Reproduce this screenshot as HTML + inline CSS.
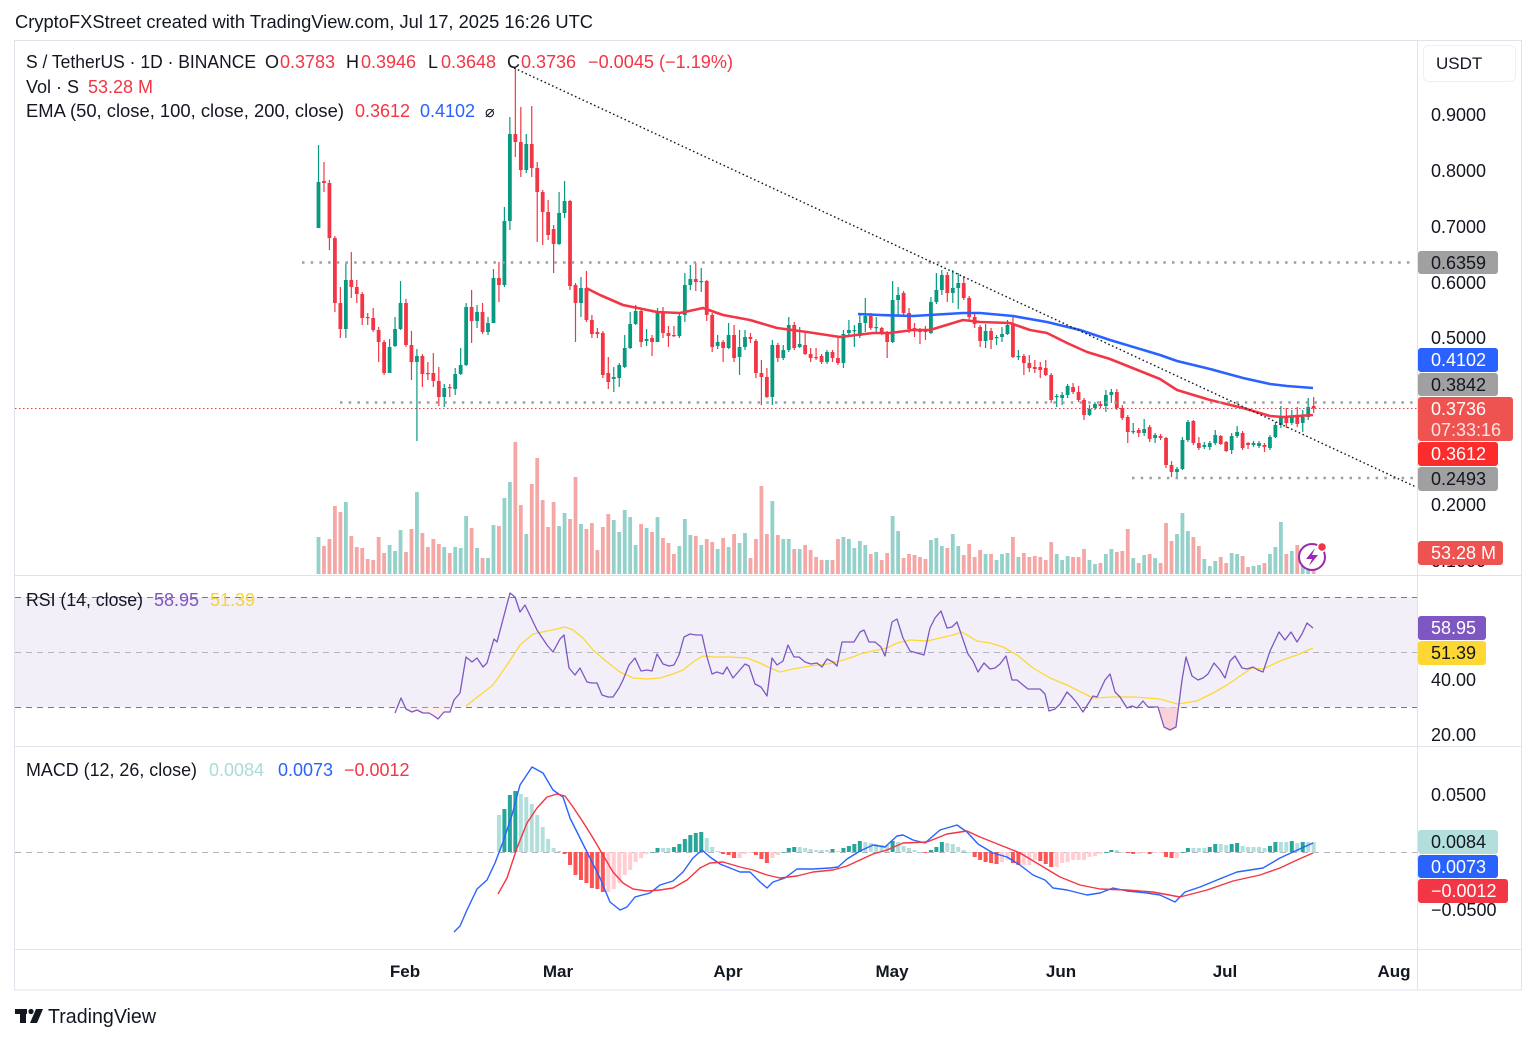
<!DOCTYPE html>
<html><head><meta charset="utf-8"><title>S/USDT chart</title>
<style>
html,body{margin:0;padding:0;background:#fff;}
svg{display:block;font-family:"Liberation Sans",Arial,sans-serif;}
</style></head>
<body>
<svg id="c" xmlns="http://www.w3.org/2000/svg" width="1536" height="1041" viewBox="0 0 1536 1041">
<rect width="1536" height="1041" fill="#fff"/>
<!-- title -->
<text x="15" y="28" font-size="18" fill="#131722" textLength="578" lengthAdjust="spacingAndGlyphs">CryptoFXStreet created with TradingView.com, Jul 17, 2025 16:26 UTC</text>

<!-- frame -->
<rect x="14.5" y="40.5" width="1507" height="949.5" fill="none" stroke="#e0e3eb" stroke-width="1"/>
<line x1="1417.5" y1="40" x2="1417.5" y2="990" stroke="#e0e3eb"/>
<line x1="14" y1="575.5" x2="1521" y2="575.5" stroke="#e0e3eb"/>
<line x1="14" y1="746.5" x2="1521" y2="746.5" stroke="#e0e3eb"/>
<line x1="14" y1="949.5" x2="1521" y2="949.5" stroke="#e0e3eb"/>

<!-- RSI band -->
<rect x="15" y="597" width="1402" height="110" fill="#f2eff9"/>
<line x1="15" y1="597.5" x2="1417" y2="597.5" stroke="#787b86" stroke-dasharray="6 5" stroke-width="1"/>
<line x1="15" y1="652.5" x2="1417" y2="652.5" stroke="#b2b5be" stroke-dasharray="6 5" stroke-width="1"/>
<line x1="15" y1="707.5" x2="1417" y2="707.5" stroke="#787b86" stroke-dasharray="6 5" stroke-width="1"/>
<!-- MACD zero -->
<line x1="15" y1="852.5" x2="1417" y2="852.5" stroke="#b2b5be" stroke-dasharray="6 5" stroke-width="1"/>

<g id="vol"></g>
<g id="cnd"></g>

<!-- EMAs -->
<polyline fill="none" stroke="#f23645" stroke-width="2.6" stroke-linejoin="round" points="586,288 590,290 600,295 623,305 657,312 680,313 703,308 723,315 750,320 777,328 807,332 840,337 873,333 890,333 913,330 930,330 963,320 980,322 1010,323 1030,330 1047,333 1067,343 1087,352 1110,359 1120,363 1140,371 1160,379 1177,390 1210,400 1243,408 1270,416 1283,417 1313,415"/>
<polyline fill="none" stroke="#2962ff" stroke-width="2.6" stroke-linejoin="round" points="858,314 880,315 913,316 963,313 980,313 1013,316 1047,322 1080,330 1110,340 1160,355 1177,361 1210,369 1243,378 1270,384 1287,386 1313,388"/>

<!-- horizontal dotted levels -->
<line x1="302" y1="262.5" x2="1415" y2="262.5" stroke="#9e9e9e" stroke-width="2.5" stroke-dasharray="2.5 6.2"/>
<line x1="340" y1="402.5" x2="1415" y2="402.5" stroke="#9e9e9e" stroke-width="2.5" stroke-dasharray="2.5 6.2"/>
<line x1="1132" y1="478" x2="1415" y2="478" stroke="#9e9e9e" stroke-width="2.5" stroke-dasharray="2.5 6.2"/>
<!-- trendline -->
<line x1="514" y1="68" x2="1416" y2="487" stroke="#131722" stroke-width="1.4" stroke-dasharray="1.6 2.6"/>
<!-- current price line -->
<line x1="15" y1="408.5" x2="1417" y2="408.5" stroke="#f23645" stroke-width="1" stroke-dasharray="1.5 2.5"/>

<!-- RSI oversold fills -->
<polygon points="1158,707 1164,727 1170,730 1176,727 1178,707" fill="#f7c6cf" opacity="0.8"/>
<polygon points="396,707 406,709 412,712 417,710 423,713 429,713 434,716 438,719 444,712 450,712 452,707" fill="#f7c6cf" opacity="0.3"/>
<!-- RSI lines -->
<polyline fill="none" stroke="#fdd835" stroke-width="1.3" stroke-linejoin="round" points="466,706 480,695 493,685 507,665 520,645 533,634 547,631 557,629 565,627 573,630 583,638 593,650 607,662 620,672 633,678 647,679 660,678 673,674 683,670 693,662 703,656 713,657 730,657 747,658 760,663 770,668 780,672 793,669 810,666 827,664 840,661 853,657 860,654 873,651 887,648 897,643 910,640 927,641 940,638 953,635 962,632 977,641 990,643 1003,647 1017,655 1033,668 1050,678 1067,685 1083,693 1093,698 1113,697 1133,697 1147,698 1160,699 1177,704 1197,701 1213,693 1227,685 1240,676 1252,668 1263,669 1280,661 1297,655 1313,648"/>
<polyline fill="none" stroke="#7e57c2" stroke-width="1.3" stroke-linejoin="round" points="395,713 401,698 406,709 412,712 417,710 423,713 429,713 434,716 438,719 444,712 450,712 454,700 460,693 466,657 472,662 477,658 483,667 487,663 494,639 497,642 510,593 515,597 520,612 525,605 537,630 547,645 553,652 560,639 564,635 569,668 575,675 580,668 587,682 592,683 597,683 602,695 608,697 613,697 619,688 623,680 629,665 635,658 641,671 647,670 652,671 657,654 663,664 669,666 674,665 679,655 684,637 690,634 696,635 702,635 707,657 712,674 717,672 723,674 727,667 733,678 739,671 745,664 749,666 755,684 761,687 767,696 772,658 777,665 783,661 788,645 794,657 799,657 805,662 811,664 817,663 822,667 827,659 833,662 837,666 842,642 848,642 854,642 860,632 864,630 869,642 875,642 881,647 885,656 892,622 897,619 903,638 910,651 917,653 924,655 930,628 935,618 941,611 947,628 952,627 957,622 968,654 973,661 978,672 984,663 990,669 995,668 1000,664 1006,656 1012,680 1017,680 1023,685 1028,689 1040,689 1045,694 1049,711 1055,709 1060,704 1067,692 1072,697 1077,703 1083,712 1088,704 1093,696 1097,697 1105,680 1110,674 1115,692 1120,697 1127,708 1132,706 1137,708 1143,701 1148,707 1158,707 1164,727 1170,730 1176,727 1182,680 1186,657 1192,676 1198,680 1203,678 1208,674 1214,663 1220,670 1225,678 1230,661 1235,656 1242,668 1247,669 1253,667 1258,670 1263,672 1270,651 1279,632 1285,640 1291,632 1297,642 1302,634 1307,623 1313,628"/>

<!-- MACD -->
<g id="hist"></g>
<polyline fill="none" stroke="#2962ff" stroke-width="1.4" stroke-linejoin="round" points="454,932 460,926 467,910 477,889 487,880 495,863 503,842 512,815 520,785 532,767 543,773 553,790 563,797 570,818 580,838 590,858 600,878 610,902 620,910 627,907 635,897 650,893 660,885 673,881 683,872 693,858 702,850 710,857 720,864 730,868 740,872 750,872 760,882 767,888 773,882 785,878 797,869 813,869 830,868 838,867 847,859 860,851 873,845 885,847 897,836 903,835 913,840 925,843 940,830 957,825 967,832 978,844 993,853 1007,857 1020,865 1033,875 1045,880 1053,888 1067,890 1087,895 1100,893 1113,888 1127,891 1147,893 1160,895 1175,902 1185,892 1200,887 1217,880 1237,872 1263,868 1280,858 1293,852 1313,843"/>
<polyline fill="none" stroke="#f23645" stroke-width="1.4" stroke-linejoin="round" points="498,894 507,878 517,848 527,823 537,808 547,797 557,794 565,796 573,807 583,822 593,838 603,855 613,872 623,883 633,889 647,891 660,890 673,888 687,880 700,868 710,863 723,862 740,867 753,870 767,875 780,878 797,876 813,872 833,870 847,866 860,860 873,854 887,850 903,843 927,842 947,834 967,831 980,837 1000,845 1020,853 1040,865 1060,877 1080,885 1100,889 1127,890 1153,892 1180,897 1207,890 1233,881 1260,875 1280,868 1297,860 1313,853"/>

<!-- legends -->
<g font-size="18">
<text x="26" y="68" fill="#131722" textLength="230" lengthAdjust="spacingAndGlyphs">S / TetherUS · 1D · BINANCE</text>
<text x="265" y="68" fill="#131722">O</text><text x="280" y="68" fill="#f23645">0.3783</text>
<text x="346" y="68" fill="#131722">H</text><text x="361" y="68" fill="#f23645">0.3946</text>
<text x="428" y="68" fill="#131722">L</text><text x="441" y="68" fill="#f23645">0.3648</text>
<text x="507" y="68" fill="#131722">C</text><text x="521" y="68" fill="#f23645">0.3736</text>
<text x="588" y="68" fill="#f23645" textLength="145" lengthAdjust="spacingAndGlyphs">−0.0045 (−1.19%)</text>
<text x="26" y="93" fill="#131722">Vol · S</text><text x="88" y="93" fill="#f23645">53.28 M</text>
<text x="26" y="117" fill="#131722" textLength="318" lengthAdjust="spacingAndGlyphs">EMA (50, close, 100, close, 200, close)</text>
<text x="355" y="117" fill="#f23645">0.3612</text><text x="420" y="117" fill="#2962ff">0.4102</text>
<text x="485" y="117" fill="#131722" font-size="16">⌀</text>
<text x="26" y="606" fill="#131722" textLength="117" lengthAdjust="spacingAndGlyphs">RSI (14, close)</text>
<text x="154" y="606" fill="#7e57c2">58.95</text><text x="210" y="606" fill="#f5d33a">51.39</text>
<text x="26" y="776" fill="#131722" textLength="171" lengthAdjust="spacingAndGlyphs">MACD (12, 26, close)</text>
<text x="209" y="776" fill="#a9dcd6">0.0084</text><text x="278" y="776" fill="#2962ff">0.0073</text><text x="344" y="776" fill="#f23645">−0.0012</text>
</g>

<!-- price axis -->
<rect x="1423.5" y="45.5" width="92" height="36" rx="5" fill="none" stroke="#eef0f3"/>
<text x="1436" y="69" font-size="17" fill="#131722">USDT</text>
<g font-size="18" fill="#131722">
<text x="1431" y="121">0.9000</text>
<text x="1431" y="177">0.8000</text>
<text x="1431" y="233">0.7000</text>
<text x="1431" y="289">0.6000</text>
<text x="1431" y="344">0.5000</text>
<text x="1431" y="511">0.2000</text>
<text x="1431" y="567">0.1000</text>
<text x="1431" y="686">40.00</text>
<text x="1431" y="741">20.00</text>
<text x="1431" y="801">0.0500</text>
<text x="1431" y="916">−0.0500</text>
</g>
<!-- badges -->
<g font-size="18">
<rect x="1418" y="251" width="80" height="23" rx="3" fill="#a0a0a0"/><text x="1431" y="269" fill="#131722">0.6359</text>
<rect x="1418" y="348" width="80" height="24" rx="3" fill="#2962ff"/><text x="1431" y="366" fill="#fff">0.4102</text>
<rect x="1418" y="373" width="80" height="23" rx="3" fill="#a0a0a0"/><text x="1431" y="391" fill="#131722">0.3842</text>
<rect x="1418" y="397" width="95" height="44" rx="3" fill="#ef5350"/><text x="1431" y="415" fill="#fff">0.3736</text><text x="1431" y="436" fill="#fde3e3">07:33:16</text>
<rect x="1418" y="442" width="80" height="24" rx="3" fill="#fb2c2c"/><text x="1431" y="460" fill="#fff">0.3612</text>
<rect x="1418" y="467" width="80" height="24" rx="3" fill="#a0a0a0"/><text x="1431" y="485" fill="#131722">0.2493</text>
<rect x="1418" y="541" width="85" height="24" rx="3" fill="#ef5350"/><text x="1431" y="559" fill="#fff">53.28 M</text>
<rect x="1418" y="616" width="68" height="24" rx="3" fill="#7e57c2"/><text x="1431" y="634" fill="#fff">58.95</text>
<rect x="1418" y="641" width="68" height="24" rx="3" fill="#fdd835"/><text x="1431" y="659" fill="#131722">51.39</text>
<rect x="1418" y="830" width="80" height="24" rx="3" fill="#b2dfdb"/><text x="1431" y="848" fill="#131722">0.0084</text>
<rect x="1418" y="855" width="80" height="23" rx="3" fill="#2962ff"/><text x="1431" y="873" fill="#fff">0.0073</text>
<rect x="1418" y="879" width="90" height="24" rx="3" fill="#f23645"/><text x="1431" y="897" fill="#fff">−0.0012</text>
</g>

<!-- time axis -->
<g font-size="17" font-weight="bold" fill="#131722" text-anchor="middle">
<text x="405" y="977">Feb</text>
<text x="558" y="977">Mar</text>
<text x="728" y="977">Apr</text>
<text x="892" y="977">May</text>
<text x="1061" y="977">Jun</text>
<text x="1225" y="977">Jul</text>
<text x="1394" y="977">Aug</text>
</g>

<!-- lightning icon -->
<circle cx="1312" cy="557" r="13" fill="#fff" stroke="#9c27b0" stroke-width="2"/>
<path d="M1315,548 L1306,559 L1312,559 L1309,566 L1318,555 L1312,555 Z" fill="#9c27b0"/>
<circle cx="1322" cy="547" r="4.5" fill="#f23645" stroke="#fff" stroke-width="1.5"/>

<!-- footer logo -->
<g fill="#131722">
<rect x="15" y="1009" width="12" height="5"/>
<rect x="20" y="1009" width="6" height="14"/>
<circle cx="31" cy="1011.5" r="2.6"/>
<polygon points="36,1009 43,1009 37,1023 30,1023"/>
</g>
<text x="48" y="1023" font-size="20" fill="#131722" textLength="108" lengthAdjust="spacingAndGlyphs">TradingView</text>
</svg>
<script>
(function(){
var C=[[228,145,228,182],[181,162,192,183],[183,180,250,238],[238,236,312,303],[303,287,338,329],[329,263,338,280],[280,252,298,287],[287,280,303,294],[294,292,325,318],[317,313,325,318],
[318,308,332,330],[330,327,362,342],[342,340,375,373],[373,339,373,347],[346,317,347,329],[329,281,330,303],[303,299,347,345],[345,331,380,362],[362,349,441,356],[356,354,387,374],
[373,362,380,373.5],[373,353,387,381],[381,367,406,397],[397,384,407,388],[387,384,397,388],[389,368,395,374],[374,348,375,365],[365,303,366,307],[307,290,343,321],[321,305,328,312],
[312,303,334,332],[332,317,335,323],[323,269,323,278],[278,262,302,285],[285,207,287,221],[221,117,230,134],[134,68,157,142],[142,107,177,170],[170,134,173,144],[144,106,177,168],
[168,162,242,192],[192,190,245,212],[212,200,240,235],[229,225,273,244],[244,192,245,213],[213,181,218,201],[201,200,290,286],[285,283,342,303],[303,277,317,288],[288,271,322,320],
[320,315,338,334],[332,328,338,334],[333,331,378,375],[373,357,389,382],[379,367,392,377],[378,363,387,365],[367,335,368,348],[348,312,349,324],[324,305,325,311],[311,308,347,342],
[341,329,346,339],[338,335,356,342],[342,308,342,311],[312,307,338,333],[333,326,347,336],[335,326,337,335],[336,313,338,316],[315,273,322,285],[285,265,290,279],[279,263,291,282],
[281,268,292,281],[281,280,321,315],[315,313,352,347],[346,335,349,342],[342,340,362,348],[348,323,349,335],[335,325,362,358],[357,330,375,347],[347,330,350,337],[337,333,343,339],
[341,339,378,373],[373,360,405,377],[377,368,398,397],[397,340,405,345],[345,343,362,358],[358,345,360,350],[350,317,352,325],[325,322,350,348],[347,327,348,344],[345,332,355,354],
[354,348,362,358],[357,348,360,357],[356,354,364,362],[362,350,364,352],[352,350,362,358],[358,337,365,363],[363,330,368,334],[333,320,335,330],[330,325,347,330],[336,313,338,323],
[323,298,332,316],[316,313,330,328],[327,317,333,327],[328,327,335,333],[333,331,358,342],[342,281,343,300],[300,287,315,295],[293,291,316,313],[313,308,333,329],[328,323,337,331],
[330,328,344,332],[329,326,340,332],[333,297,334,302],[302,273,304,290],[290,270,295,275],[275,272,302,293],[293,270,303,288],[288,273,309,283],[283,276,300,298],[298,296,320,317],
[317,312,328,324],[327,325,347,341],[341,324,348,331],[331,328,349,340],[338,335,345,337],[337,327,342,334],[334,320,335,325],[324,316,358,357],[356,350,360,356],[356,354,375,363],
[363,355,372,368],[367,360,373,369],[367,362,378,370],[368,360,376,375],[375,373,403,400],[397,394,407,396],[398,392,405,395],[395,384,398,386],[387,383,394,392],[392,386,402,400],
[400,398,420,415],[415,405,416,409],[408,402,410,404],[404,401,408,406],[406,390,412,395],[395,389,403,392],[392,389,410,408],[408,405,420,418],[417,415,443,432],[432,423,434,431],
[430,428,437,433],[433,419,436,429],[427,425,442,439],[438,433,443,435],[436,434,440,438],[438,437,468,465],[465,461,477,472],[472,467,477,469],[469,437,470,440],[440,420,442,422],
[421,420,445,443],[443,437,450,448],[447,442,449,445],[447,441,450,443],[443,430,445,435],[436,435,445,444],[442,441,452,451],[450,433,454,436],[436,426,438,432],[433,431,450,448],
[443,442,449,445],[445,441,447,443],[446,441,448,443],[445,443,452,447],[448,435,450,437],[437,422,438,425],[425,406,428,416],[416,408,428,423],[423,410,425,417],[416,407,427,424],
[423,410,432,417],[417,398,420,407],[406,397,413,408.4]];
var V=[537,546,539,506,512,502,536,547,548,559,560,537,553,545,551,530,552,529,492,533,547,539,544,547,553,547,548,516,528,548,558,558,525,526,498,482,442,505,534,484,458,500,527,502,526,513,519,477,524,529,523,550,527,514,520,532,510,517,545,524,528,532,517,538,543,554,546,519,535,536,545,539,542,549,538,547,534,543,533,558,539,486,534,501,535,539,539,549,549,545,550,557,560,560,560,539,537,539,548,541,545,554,552,560,553,516,531,558,554,555,557,559,540,538,546,548,534,546,555,544,557,550,554,554,560,554,553,537,557,553,557,556,557,560,542,554,560,556,557,557,549,560,564,563,554,549,552,551,529,558,563,555,554,558,563,523,541,534,513,531,537,546,559,566,561,557,563,553,554,556,567,566,565,563,554,547,522,554,551,545,563,560,563];
var H1=[815,809,795,791,794,797,804,815,827,839,848,851,854,865,875,880,883,888,889,892,892,889,883,875,870,862,858,854,852,848,848,848,847,844,839,835,833,832,838,847,851,854,855,858,858,854,853,855,859,863,858,855,852,848,847,847,848,849,850,850,850,849,851,848,846,844];
var H2=[841,842,843,844,845,845,841,842,846,848,850,852,853,850,847,842,843,844,847,850,852,857,860,862,863,864,862,860,863,865,865,865,860,861,864,867,867,863,862,860,860,860,857,856,854,852,850,850,852,853,854,854,853,854,853,853,857,858,858,852,848,848,848,848,847,844,844,845,844,843,846,847,847,847,848,846,842,842,842,841,843,842,842,842];
var H=H1.concat(H2);
function X(i){return 318.5+5.468*i;}
var vs="",cs="",hs="";
for(var i=0;i<C.length;i++){
 var o=C[i][0],h=C[i][1],l=C[i][2],c=C[i][3];
 var up=c<o || (c==o && i%2==0);
 var col=up?"#089981":"#f23645";
 var x=X(i);
 var vt=V[i];
 vs+='<rect x="'+(x-1.9).toFixed(2)+'" y="'+vt+'" width="3.8" height="'+(574-vt)+'" fill="'+(up?"#93d1ca":"#f5a7a5")+'"/>';
 cs+='<line x1="'+x.toFixed(2)+'" x2="'+x.toFixed(2)+'" y1="'+h+'" y2="'+l+'" stroke="'+col+'" stroke-width="1.2"/>';
 var top=Math.min(o,c),bh=Math.max(Math.abs(o-c),1.2);
 cs+='<rect x="'+(x-1.9).toFixed(2)+'" y="'+top+'" width="3.8" height="'+bh+'" fill="'+col+'"/>';
}
var prev=null;
for(var k=0;k<H.length;k++){
 var i2=33+k,x2=X(i2),t=H[k],v=852-t,col2;
 if(v>=0){col2=(prev!==null&&v>prev)?"#26a69a":"#b2dfdb";}
 else{col2=(prev!==null&&v<prev)?"#ff5252":"#ffcdd2";}
 prev=v;
 var y0=Math.min(t,852),hh=Math.max(Math.abs(v),0.8);
 hs+='<rect x="'+(x2-2).toFixed(2)+'" y="'+y0+'" width="4" height="'+hh+'" fill="'+col2+'"/>';
}
document.getElementById("vol").innerHTML=vs;
document.getElementById("cnd").innerHTML=cs;
document.getElementById("hist").innerHTML=hs;
})();
</script>
</body></html>
